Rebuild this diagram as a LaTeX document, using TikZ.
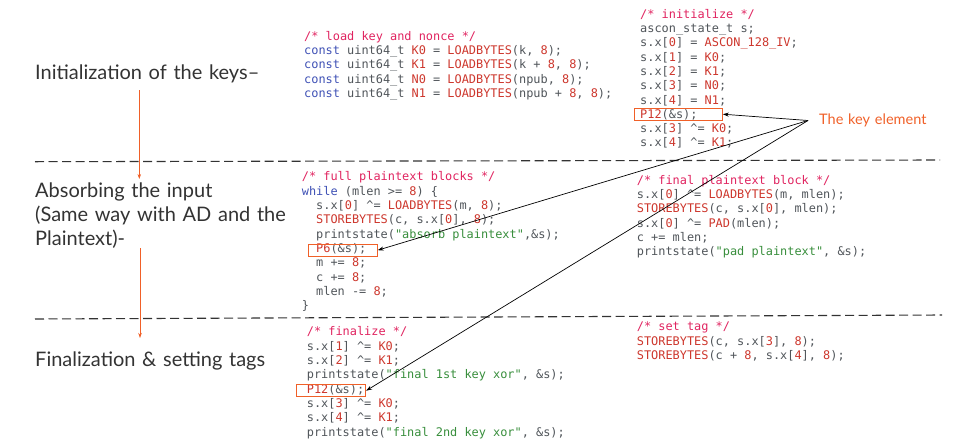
\documentclass[tikz,border=0pt]{standalone}
\usepackage{fontspec}
\setmainfont{Lato}[WordSpace=1.3]
\setmonofont{DejaVu Sans Mono}
\usetikzlibrary{arrows.meta,positioning}

\definecolor{cmtpink}{RGB}{224,36,96}
\definecolor{kwblue}{RGB}{63,81,181}
\definecolor{litred}{RGB}{205,55,45}
\definecolor{strgreen}{RGB}{56,142,60}
\definecolor{plaingray}{RGB}{80,85,90}
\definecolor{keyorange}{RGB}{240,96,40}

\newcommand{\ccmt}[1]{\textcolor{cmtpink}{#1}}
\newcommand{\ckw}[1]{\textcolor{kwblue}{#1}}
\newcommand{\clit}[1]{\textcolor{litred}{#1}}
\newcommand{\cstr}[1]{\textcolor{strgreen}{#1}}

\begin{document}
\begin{tikzpicture}[x=1pt,y=-1pt,
    phase/.style={font=\fontsize{20}{23.7}\selectfont, text=black!80, inner sep=0pt, align=left},
    codeblk/.style={font=\ttfamily\fontsize{11.9}{14.3}\selectfont, text=plaingray, inner sep=0pt, align=left, anchor=north west},
    keybox/.style={draw=keyorange, line width=0.8pt, inner sep=0pt, minimum height=11.7pt},
    sepline/.style={line width=1.1pt, black!80, dash pattern=on 9pt off 4.5pt},
    flow/.style={keyorange, line width=0.6pt, -{Stealth[length=5pt,width=3.5pt]}},
    pointer/.style={black, line width=0.7pt, -{Stealth[length=6pt,width=4pt]}}]

\useasboundingbox (0,0) rectangle (960,445);

% phases on the left
\node[phase, anchor=base west] (init) at (35,79.5) {Initialization of the keys--};
\node[phase, anchor=north west] (absorb) at (35,181.2) {\strut Absorbing the input\\(Same way with AD and the\\Plaintext)-};
\node[phase, anchor=base west] (final) at (35,366) {Finalization \& setting tags};

\coordinate (i1) at (139.3,90);
\coordinate (i2) at (139.3,179);
\coordinate (a1) at (140,248);
\coordinate (a2) at (140,338);
\draw[flow] (i1) -- (i2);
\draw[flow] (a1) -- (a2);

% separators
\draw[sepline] (35,161.7) -- (940,160);
\draw[sepline] (35,319) -- (942,315);

% code
\node[codeblk] (loadkey) at (304,30) {\strut\ccmt{/* load key and nonce */}\\
\ckw{const} uint64\_t \clit{K0} = \clit{LOADBYTES}(k, \clit{8});\\
\ckw{const} uint64\_t \clit{K1} = \clit{LOADBYTES}(k + \clit{8}, \clit{8});\\
\ckw{const} uint64\_t \clit{N0} = \clit{LOADBYTES}(npub, \clit{8});\\
\ckw{const} uint64\_t \clit{N1} = \clit{LOADBYTES}(npub + \clit{8}, \clit{8});};

\node[codeblk] (initcode) at (640,8) {\strut\ccmt{/* initialize */}\\
ascon\_state\_t s;\\
s.x[\clit{0}] = \clit{ASCON\_128\_IV};\\
s.x[\clit{1}] = \clit{K0};\\
s.x[\clit{2}] = \clit{K1};\\
s.x[\clit{3}] = \clit{N0};\\
s.x[\clit{4}] = \clit{N1};\\
\clit{P12}(\&s);\\
s.x[\clit{3}] \textasciicircum= \clit{K0};\\
s.x[\clit{4}] \textasciicircum= \clit{K1};};

\node[codeblk] (fullblk) at (301.7,170.7) {\strut\ccmt{/* full plaintext blocks */}\\
\ckw{while} (mlen >= \clit{8}) \{\\
~~s.x[\clit{0}] \textasciicircum= \clit{LOADBYTES}(m, \clit{8});\\
~~\clit{STOREBYTES}(c, s.x[\clit{0}], \clit{8});\\
~~printstate(\cstr{"absorb plaintext"},\&s);\\
~~\clit{P6}(\&s);\\
~~m += \clit{8};\\
~~c += \clit{8};\\
~~mlen -= \clit{8};\\
\}};

\node[codeblk] (lastblk) at (636.7,174) {\strut\ccmt{/* final plaintext block */}\\
s.x[\clit{0}] \textasciicircum= \clit{LOADBYTES}(m, mlen);\\
\clit{STOREBYTES}(c, s.x[\clit{0}], mlen);\\
s.x[\clit{0}] \textasciicircum= \clit{PAD}(mlen);\\
c += mlen;\\
printstate(\cstr{"pad plaintext"}, \&s);};

\node[codeblk] (finalcode) at (306.7,325.7) {\strut\ccmt{/* finalize */}\\
s.x[\clit{1}] \textasciicircum= \clit{K0};\\
s.x[\clit{2}] \textasciicircum= \clit{K1};\\
printstate(\cstr{"final 1st key xor"}, \&s);\\
\clit{P12}(\&s);\\
s.x[\clit{3}] \textasciicircum= \clit{K0};\\
s.x[\clit{4}] \textasciicircum= \clit{K1};\\
printstate(\cstr{"final 2nd key xor"}, \&s);};

\node[codeblk] (tagcode) at (636.7,320.7) {\strut\ccmt{/* set tag */}\\
\clit{STOREBYTES}(c, s.x[\clit{3}], \clit{8});\\
\clit{STOREBYTES}(c + \clit{8}, s.x[\clit{4}], \clit{8});};

% the permutation calls
\node[keybox, minimum width=88.3pt] (p12init) at (678.2,114.2) {};
\node[keybox, minimum width=69pt] (p6) at (342.8,250.2) {};
\node[keybox, minimum width=69pt] (p12final) at (331.2,390.7) {};

\coordinate (hub) at (808,120.5);
\node[right=11pt of hub, inner sep=0pt, text=keyorange, font=\fontsize{14.5}{17}\selectfont] (keyel) {The key element};

\foreach \b in {p12init,p6,p12final}
    \draw[pointer] (hub) -- (\b.east);
\end{tikzpicture}
\end{document}
